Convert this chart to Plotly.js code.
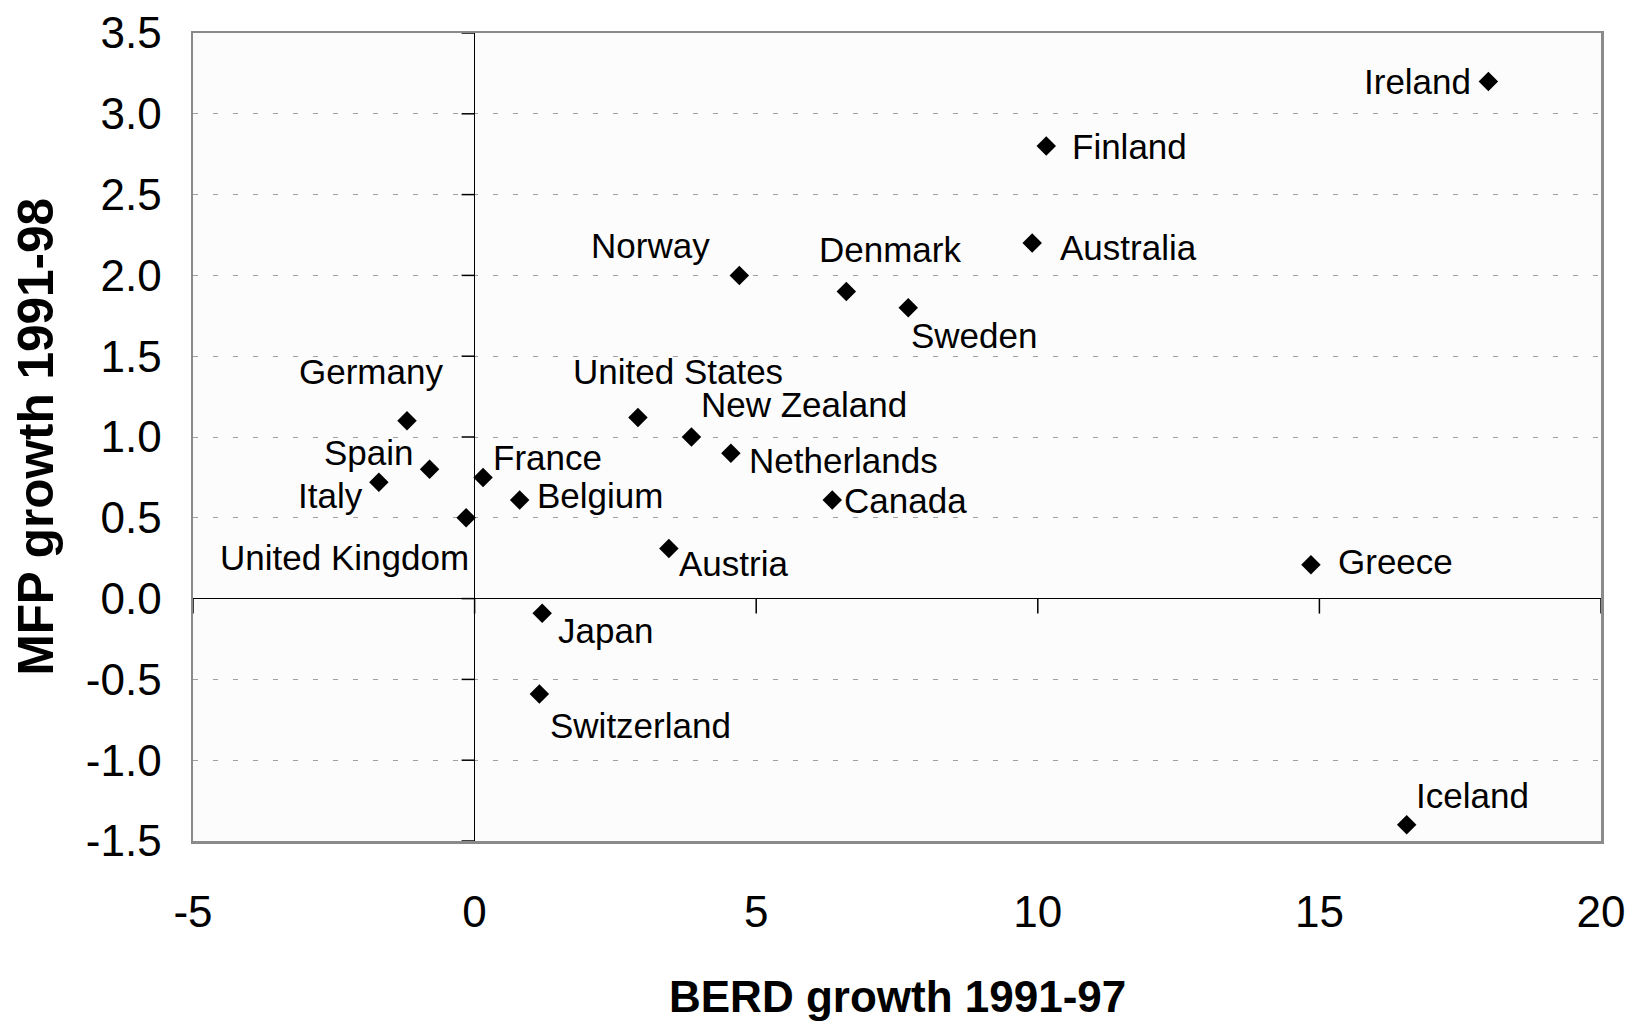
<!DOCTYPE html>
<html>
<head>
<meta charset="utf-8">
<script src="https://cdn.plot.ly/plotly-3.0.1.min.js"></script>
<style>html,body{margin:0;padding:0;background:#fff;}#chart{width:1634px;height:1022px;}</style>
</head>
<body>
<div id="chart"></div>
<script>
// ---- data ----
const countries = ["Ireland","Finland","Australia","Norway","Denmark","Sweden","Germany","United States","New Zealand","Netherlands","Spain","France","Italy","Belgium","Canada","United Kingdom","Austria","Greece","Japan","Switzerland","Iceland"];
const berdGrowth = [18.0, 10.15, 9.9, 4.7, 6.6, 7.7, -1.2, 2.9, 3.85, 4.55, -0.8, 0.15, -1.7, 0.8, 6.35, -0.15, 3.45, 14.85, 1.2, 1.15, 16.55];
const mfpGrowth  = [3.2, 2.8, 2.2, 2.0, 1.9, 1.8, 1.1, 1.12, 1.0, 0.9, 0.8, 0.75, 0.72, 0.61, 0.61, 0.5, 0.31, 0.21, -0.09, -0.59, -1.4];
const xTickVals = [-5, 0, 5, 10, 15, 20];
const yTickVals = [-1.5, -1.0, -0.5, 0.0, 0.5, 1.0, 1.5, 2.0, 2.5, 3.0, 3.5];
const xTitle = "BERD growth 1991-97";
const yTitle = "MFP growth 1991-98";

// ---- label placement (pixels: anchor, dx, dy downward) ----
const labelPlacement = {
  "Ireland": ["right", -15, 0],
  "Finland": ["left", 24, 0],
  "Australia": ["left", 26, 4],
  "Norway": ["right", -27, -30],
  "Denmark": ["center", 44, -42],
  "Sweden": ["left", 1, 28],
  "Germany": ["center", -36, -49],
  "United States": ["center", 40, -46],
  "New Zealand": ["left", 8, -33],
  "Netherlands": ["left", 16, 7],
  "Spain": ["right", -14, -17],
  "France": ["left", 8, -20],
  "Italy": ["right", -14, 13],
  "Belgium": ["left", 15, -5],
  "Canada": ["left", 10, 0],
  "United Kingdom": ["right", 5, 40],
  "Austria": ["left", 8, 15],
  "Greece": ["left", 25, -3],
  "Japan": ["left", 14, 17],
  "Switzerland": ["left", 9, 32],
  "Iceland": ["left", 7, -29]
};

const FONT = "Liberation Sans, Arial, sans-serif";

const annotations = countries.map((c, i) => {
  const p = labelPlacement[c];
  return {
    x: berdGrowth[i], y: mfpGrowth[i], xref: "x", yref: "y",
    text: c, showarrow: false,
    xanchor: p[0], yanchor: "middle",
    xshift: p[1], yshift: -p[2],
    font: {family: FONT, size: 35, color: "#000"}
  };
});
annotations.push({
  text: "<b>" + xTitle + "</b>", xref: "paper", yref: "paper",
  x: 0.5, y: -0.192, xanchor: "center", yanchor: "middle", showarrow: false,
  font: {family: FONT, size: 44, color: "#000"}
});
annotations.push({
  text: "<b>" + yTitle + "</b>", xref: "paper", yref: "paper",
  x: -0.1125, y: 0.5, xanchor: "center", yanchor: "middle", showarrow: false,
  textangle: -90,
  font: {family: FONT, size: 49.5, color: "#000"}
});

const shapes = [];
yTickVals.forEach(v => shapes.push({
  type: "line", xref: "x", yref: "y", xsizemode: "pixel", xanchor: 0,
  x0: -13, x1: 0, y0: v, y1: v, line: {color: "#000", width: 1.5}
}));
xTickVals.forEach(v => shapes.push({
  type: "line", xref: "x", yref: "y", ysizemode: "pixel", yanchor: 0,
  y0: -15, y1: 0, x0: v, x1: v, line: {color: "#000", width: 1.5}
}));

const trace = {
  type: "scatter", mode: "markers",
  x: berdGrowth, y: mfpGrowth, text: countries,
  marker: {symbol: "diamond", size: 15, color: "#000"},
  hoverinfo: "text+x+y"
};

const layout = {
  width: 1634, height: 1022,
  margin: {l: 193, r: 33, t: 33, b: 181, pad: 0},
  paper_bgcolor: "#ffffff",
  plot_bgcolor: "#fcfcfc",
  showlegend: false,
  font: {family: FONT, color: "#000"},
  xaxis: {
    range: [-5, 20], tickvals: xTickVals, ticktext: xTickVals.map(String),
    showgrid: false, zeroline: true, zerolinecolor: "#000", zerolinewidth: 1,
    showline: true, mirror: true, linecolor: "#8a8a8a", linewidth: 2.5,
    ticks: "", ticklabelstandoff: 31,
    tickfont: {family: FONT, size: 44, color: "#000"}
  },
  yaxis: {
    range: [-1.5, 3.5], tickvals: yTickVals, ticktext: yTickVals.map(v => v.toFixed(1)),
    showgrid: true, gridcolor: "#a0a0a0", gridwidth: 1, griddash: "5px,15px",
    zeroline: true, zerolinecolor: "#000", zerolinewidth: 1,
    showline: true, mirror: true, linecolor: "#8a8a8a", linewidth: 2.5,
    ticks: "", ticklabelstandoff: 20,
    tickfont: {family: FONT, size: 44, color: "#000"}
  },
  annotations: annotations,
  shapes: shapes
};

Plotly.newPlot("chart", [trace], layout, {displayModeBar: false, staticPlot: true});
</script>
</body>
</html>
